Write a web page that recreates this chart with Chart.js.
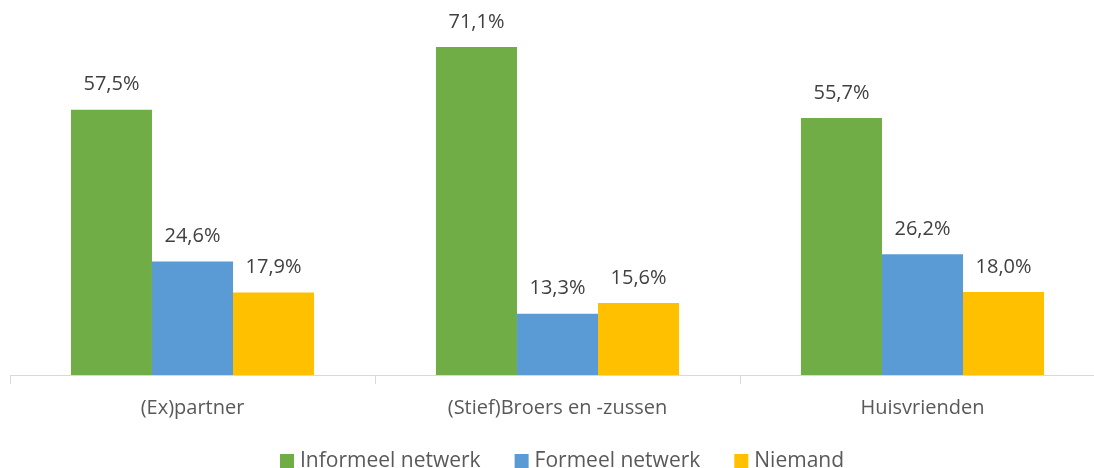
<!DOCTYPE html>
<html>
<head>
<meta charset="utf-8">
<script src="https://cdn.jsdelivr.net/npm/chart.js@4"></script>
<style>
  html, body { margin: 0; padding: 0; background: #fff; overflow: hidden; }
  #wrap { width: 1105px; height: 468px; }
</style>
</head>
<body>
<div id="wrap"><canvas id="chart" width="1105" height="468"></canvas></div>
<script>
// chart data
const categories = ['(Ex)partner', '(Stief)Broers en -zussen', 'Huisvrienden'];
const seriesNames = ['Informeel netwerk', 'Formeel netwerk', 'Niemand'];
const informeel = [57.5, 71.1, 55.7];
const formeel = [24.6, 13.3, 26.2];
const niemand = [17.9, 15.6, 18.0];
const colors = ['#70AD47', '#5B9BD5', '#FFC000'];

const FONT = '"Open Sans", Lato, sans-serif';

// value labels above each bar
const valueLabels = {
    id: 'valueLabels',
    afterDatasetsDraw(chart) {
        const ctx = chart.ctx;
        ctx.save();
        ctx.font = '20px ' + FONT;
        ctx.fillStyle = '#404040';
        ctx.textAlign = 'center';
        ctx.textBaseline = 'middle';
        chart.data.datasets.forEach((ds, i) => {
            chart.getDatasetMeta(i).data.forEach((bar, j) => {
                const txt = ds.data[j].toFixed(1).replace('.', ',') + '%';
                ctx.fillText(txt, bar.x, bar.y - 25);
            });
        });
        ctx.restore();
    }
};

// legend drawn by hand so it sits where the original one does
const bottomLegend = {
    id: 'bottomLegend',
    afterDraw(chart) {
        const ctx = chart.ctx;
        ctx.save();
        ctx.font = '21px ' + FONT;
        const box = 14, gap = 6, spacing = 34;
        const items = chart.data.datasets.map(ds => ({
            text: ds.label,
            color: ds.backgroundColor,
            w: box + gap + ctx.measureText(ds.label).width
        }));
        const total = items.reduce((s, it) => s + it.w, 0) + spacing * (items.length - 1);
        let x = 562 - total / 2;
        const y = 461;
        items.forEach(it => {
            ctx.fillStyle = it.color;
            ctx.fillRect(x, y - 7, box, box);
            ctx.fillStyle = '#595959';
            ctx.textAlign = 'left';
            ctx.textBaseline = 'middle';
            ctx.fillText(it.text, x + box + gap, y);
            x += it.w + spacing;
        });
        ctx.restore();
    }
};

new Chart(document.getElementById('chart'), {
    type: 'bar',
    data: {
        labels: categories,
        datasets: [
            { label: seriesNames[0], data: informeel, backgroundColor: colors[0] },
            { label: seriesNames[1], data: formeel, backgroundColor: colors[1] },
            { label: seriesNames[2], data: niemand, backgroundColor: colors[2] }
        ]
    },
    options: {
        responsive: false,
        animation: false,
        layout: { padding: { left: 10, right: 0, top: 6, bottom: 40 } },
        datasets: {
            bar: { categoryPercentage: 0.666, barPercentage: 1.0 }
        },
        scales: {
            x: {
                afterFit(scale) { scale.height = 53; },
                grid: {
                    offset: true,
                    drawOnChartArea: false,
                    color: '#d9d9d9',
                    tickLength: 9
                },
                border: { color: '#d9d9d9', width: 1 },
                ticks: {
                    color: '#595959',
                    font: { family: FONT, size: 20 },
                    padding: 12
                }
            },
            y: {
                display: false,
                min: 0,
                max: 80
            }
        },
        plugins: {
            legend: { display: false },
            tooltip: { enabled: false }
        }
    },
    plugins: [valueLabels, bottomLegend]
});
</script>
</body>
</html>
